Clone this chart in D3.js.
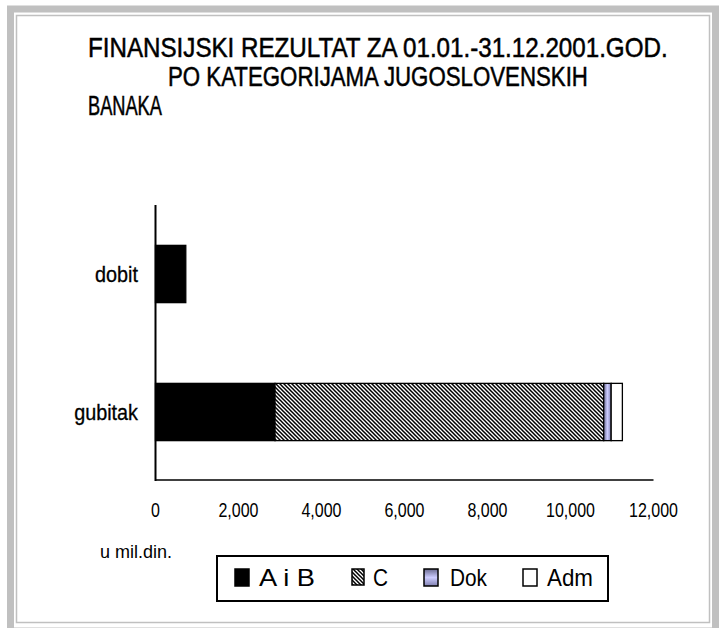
<!DOCTYPE html>
<html>
<head>
<meta charset="utf-8">
<script src="https://cdn.jsdelivr.net/npm/d3@7"></script>
<style>
  body { margin: 0; background: #fff; }
  svg text { font-family: "Liberation Sans", Arial, sans-serif; fill: #000; }
</style>
</head>
<body>
<svg id="chart" width="723" height="628"></svg>
<script>
/*** Data ***/
var categories = ["dobit", "gubitak"];
var seriesNames = ["A i B", "C", "Dok", "Adm"];
var seriesValues = {
  "A i B": [730, 2880],
  "C": [0, 7920],
  "Dok": [0, 180],
  "Adm": [0, 270]
};
var xTicks = [0, 2000, 4000, 6000, 8000, 10000, 12000];
var titleLines = ["FINANSIJSKI REZULTAT ZA 01.01.-31.12.2001.GOD.", "PO KATEGORIJAMA JUGOSLOVENSKIH", "BANAKA"];
var unitLabel = "u mil.din.";

// squeeze text horizontally (no narrow font installed)
function narrow(sel, k) {
  sel.each(function() {
    var w = this.getComputedTextLength();
    d3.select(this).attr("textLength", w * k).attr("lengthAdjust", "spacingAndGlyphs");
  });
  return sel;
}

// squeeze with a transform so the text box is the drawn box
function fitText(parent, str, x0, y0, size, width) {
  var t = parent.append("text").attr("font-size", size).text(str);
  var w = t.node().getComputedTextLength();
  t.attr("transform", "translate(" + x0 + "," + y0 + ") scale(" + (width / w) + ",1)");
  return t;
}

/*** Setup ***/
var svg = d3.select("#chart");
var defs = svg.append("defs");

// hatch for C
var hatch = defs.append("pattern")
  .attr("id", "hatch").attr("patternUnits", "userSpaceOnUse")
  .attr("width", 4).attr("height", 4);
hatch.append("rect").attr("width", 4).attr("height", 4).attr("fill", "#fff");
hatch.append("path")
  .attr("d", "M-1,-1 L5,5 M-1,3 L1,5 M3,-1 L5,1")
  .attr("stroke", "#000").attr("stroke-width", 1.5);

// gradient for Dok
var gradH = defs.append("linearGradient").attr("id", "dokH")
  .attr("x1", "0%").attr("x2", "100%").attr("y1", "0%").attr("y2", "0%");
gradH.append("stop").attr("offset", "0%").attr("stop-color", "#6a6a90");
gradH.append("stop").attr("offset", "50%").attr("stop-color", "#ccccff");
gradH.append("stop").attr("offset", "100%").attr("stop-color", "#8080b0");
var gradV = defs.append("linearGradient").attr("id", "dokV")
  .attr("x1", "0%").attr("x2", "0%").attr("y1", "0%").attr("y2", "100%");
gradV.append("stop").attr("offset", "0%").attr("stop-color", "#6a6a90");
gradV.append("stop").attr("offset", "50%").attr("stop-color", "#ccccff");
gradV.append("stop").attr("offset", "100%").attr("stop-color", "#8080b0");

var fills = {"A i B": "#000", "C": "url(#hatch)", "Dok": "url(#dokH)", "Adm": "#fff"};
var legendFills = {"A i B": "#000", "C": "url(#hatch)", "Dok": "url(#dokV)", "Adm": "#fff"};

/*** Frame ***/
svg.append("rect").attr("x", 10.5).attr("y", 9).attr("width", 705).attr("height", 622)
  .attr("fill", "none").attr("stroke", "#c0c0c0").attr("stroke-width", 7);
svg.append("rect").attr("x", 16.5).attr("y", 15.5).attr("width", 693).attr("height", 607)
  .attr("fill", "none").attr("stroke", "#c0c0c0").attr("stroke-width", 1.5);

/*** Title ***/
var title = svg.append("g").attr("stroke", "#000").attr("stroke-width", 0.5);
fitText(title, titleLines[0], 88, 57, 27, 580);
fitText(title, titleLines[1], 168, 86, 27, 420);
fitText(title, titleLines[2], 88, 115, 27, 74);

/*** Scales ***/
var x = d3.scaleLinear().domain([0, 12000]).range([155.5, 653.5]);
var y = d3.scaleBand().domain(categories).range([205, 481])
  .paddingInner(0.585).paddingOuter(0.2925);

var stacked = d3.stack().keys(seriesNames)(categories.map(function(c, i) {
  var row = {cat: c};
  seriesNames.forEach(function(s) { row[s] = seriesValues[s][i]; });
  return row;
}));

var g = svg.append("g");
stacked.forEach(function(layer) {
  g.append("g").selectAll("rect")
    .data(layer.filter(function(d) { return d[1] > d[0]; }))
    .enter().append("rect")
      .attr("x", function(d) { return x(d[0]); })
      .attr("width", function(d) { return x(d[1]) - x(d[0]); })
      .attr("y", function(d) { return y(d.data.cat); })
      .attr("height", y.bandwidth())
      .attr("fill", fills[layer.key])
      .attr("stroke", "#000").attr("stroke-width", 1.3);
});

// axis lines
svg.append("line").attr("x1", x(0)).attr("x2", x(0)).attr("y1", 205).attr("y2", 481)
  .attr("stroke", "#000").attr("stroke-width", 2);
svg.append("line").attr("x1", x(0)).attr("x2", x(12000)).attr("y1", 480).attr("y2", 480)
  .attr("stroke", "#000").attr("stroke-width", 1.5);

// category labels
narrow(svg.append("g").attr("stroke", "#000").attr("stroke-width", 0.3)
  .selectAll("text").data(categories).enter().append("text")
  .attr("x", 138)
  .attr("y", function(d) { return y(d) + y.bandwidth() / 2 + 8; })
  .attr("text-anchor", "end").attr("font-size", 22)
  .text(function(d) { return d; }), 0.9);

// tick labels
var fmt = d3.format(",");
narrow(svg.append("g").selectAll("text").data(xTicks).enter().append("text")
  .attr("x", function(d) { return x(d); })
  .attr("y", 517)
  .attr("text-anchor", "middle").attr("font-size", 20)
  .text(function(d) { return fmt(d); }), 0.8);

svg.append("text").attr("x", 100).attr("y", 558).attr("font-size", 18)
  .attr("textLength", 72).attr("lengthAdjust", "spacingAndGlyphs").text(unitLabel);

/*** Legend ***/
var legend = svg.append("g");
legend.append("rect").attr("x", 217).attr("y", 556).attr("width", 391).attr("height", 45)
  .attr("fill", "#fff").attr("stroke", "#000").attr("stroke-width", 2);
var legendX = [235, 352, 424, 523];
var textX = [259, 373, 450, 547];
var textW = [56, 15, 37, 46];
seriesNames.forEach(function(s, i) {
  legend.append("rect").attr("x", legendX[i]).attr("y", 569)
    .attr("width", s === "C" ? 12 : 14).attr("height", s === "C" ? 16 : 17)
    .attr("fill", legendFills[s]).attr("stroke", "#000").attr("stroke-width", 1.5);
  legend.append("text").attr("x", textX[i]).attr("y", 586).attr("font-size", 24)
    .attr("textLength", textW[i]).attr("lengthAdjust", "spacingAndGlyphs")
    .text(s);
});
</script>
</body>
</html>
